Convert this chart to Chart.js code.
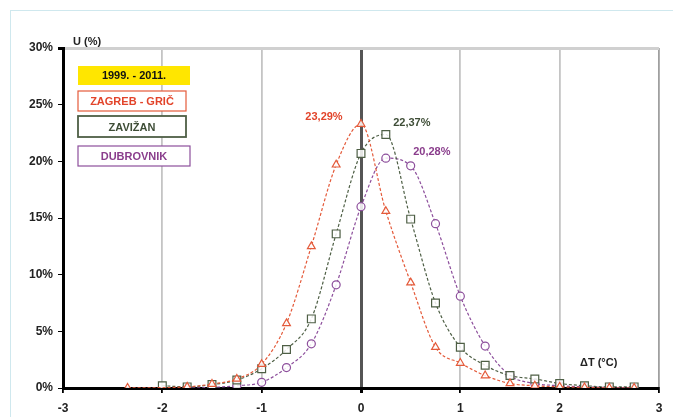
<!DOCTYPE html>
<html>
<head>
<meta charset="utf-8">
<script src="https://cdn.jsdelivr.net/npm/chart.js@4"></script>
<style>
  html, body { margin: 0; padding: 0; background: #fff; overflow: hidden; }
  #wrap { position: relative; width: 673px; height: 417px; }
  #frame { position: absolute; left: 10px; top: 10px; width: 700px; height: 450px; border: 1.5px solid #cfe8ee; }
  #chart { position: absolute; left: 0; top: 0; }
</style>
</head>
<body>
<div id="wrap">
  <div id="frame"></div>
  <canvas id="chart" width="673" height="417"></canvas>
</div>
<script>
const period = '1999. - 2011.';
const seriesNames = ['ZAGREB - GRIČ', 'ZAVIŽAN', 'DUBROVNIK'];
const xTicks = [-3, -2, -1, 0, 1, 2, 3];
const yTicks = [0, 5, 10, 15, 20, 25, 30];

const zagrebX = [-2.35, -1.75, -1.5, -1.25, -1, -0.75, -0.5, -0.25, 0, 0.25, 0.5, 0.75, 1, 1.25, 1.5, 1.75, 2, 2.25, 2.5, 2.75];
const zagrebU = [0, 0.1, 0.35, 0.8, 2.1, 5.7, 12.5, 19.7, 23.29, 15.6, 9.3, 3.6, 2.2, 1.1, 0.4, 0.2, 0.1, 0.05, 0, 0];
const zavizanX = [-2, -1.75, -1.5, -1.25, -1, -0.75, -0.5, -0.25, 0, 0.25, 0.5, 0.75, 1, 1.25, 1.5, 1.75, 2, 2.25, 2.5, 2.75];
const zavizanU = [0.2, 0.1, 0.3, 0.7, 1.7, 3.4, 6.1, 13.6, 20.7, 22.37, 14.9, 7.5, 3.6, 2.0, 1.1, 0.8, 0.4, 0.2, 0.1, 0.1];
const dubrovnikX = [-1.75, -1.5, -1.25, -1, -0.75, -0.5, -0.25, 0, 0.25, 0.5, 0.75, 1, 1.25, 1.5, 1.75, 2, 2.25, 2.5, 2.75];
const dubrovnikU = [0, 0.05, 0.2, 0.5, 1.8, 3.9, 9.1, 16.0, 20.28, 19.6, 14.5, 8.1, 3.7, 1.1, 0.4, 0.2, 0.1, 0.05, 0];

const peakLabels = ['23,29%', '22,37%', '20,28%'];
const peakX = [0, 0.25, 0.25];
const peakU = [23.29, 22.37, 20.28];

const colors = ['#e45a3a', '#4e5f45', '#8d4f9c'];
const textColors = ['#e2442a', '#3e4d36', '#8a3d8c'];

const pts = (xs, ys) => xs.map((x, i) => ({ x: x, y: ys[i] }));

function series(label, data, color, style, radius) {
  return {
    label: label,
    data: data,
    borderColor: color,
    borderWidth: 1.2,
    borderDash: [3, 2],
    cubicInterpolationMode: 'monotone',
    pointStyle: style,
    pointRadius: radius,
    pointBorderWidth: 1.2,
    pointBorderColor: color,
    pointBackgroundColor: 'rgba(255,255,255,0.85)',
    fill: false
  };
}

const overlay = {
  id: 'overlay',
  afterDraw(chart) {
    const ctx = chart.ctx;
    const xs = chart.scales.x, ys = chart.scales.y;
    ctx.save();
    ctx.textBaseline = 'middle';

    // axis titles
    ctx.fillStyle = '#222';
    ctx.font = 'bold 11px "Liberation Sans", Arial, sans-serif';
    ctx.textAlign = 'left';
    ctx.fillText('U (%)', 73, 42);
    ctx.fillText('ΔT (°C)', 580, 363);

    // legend boxes
    ctx.textAlign = 'center';
    ctx.fillStyle = '#ffe600';
    ctx.fillRect(78, 66, 112, 19);
    ctx.fillStyle = '#111';
    ctx.fillText(period, 134, 76);
    const boxes = [[78, 91, 108, 20], [78, 116, 108, 21], [78, 146, 112, 20]];
    boxes.forEach((b, i) => {
      ctx.fillStyle = '#fff';
      ctx.fillRect(b[0], b[1], b[2], b[3]);
      ctx.strokeStyle = colors[i];
      ctx.lineWidth = i === 1 ? 1.8 : 1.2;
      ctx.strokeRect(b[0], b[1], b[2], b[3]);
      ctx.fillStyle = textColors[i];
      ctx.fillText(seriesNames[i], b[0] + b[2] / 2, b[1] + b[3] / 2 + 1);
    });

    // peak labels
    const offs = [[-37, -7], [26, -12], [46, -6]];
    peakLabels.forEach((t, i) => {
      const px = xs.getPixelForValue(peakX[i]);
      const py = ys.getPixelForValue(peakU[i]);
      ctx.fillStyle = textColors[i];
      ctx.fillText(t, px + offs[i][0], py + offs[i][1]);
    });
    ctx.restore();
  }
};

new Chart(document.getElementById('chart'), {
  type: 'line',
  data: {
    datasets: [
      series(seriesNames[0], pts(zagrebX, zagrebU), colors[0], 'triangle', 4.5),
      series(seriesNames[1], pts(zavizanX, zavizanU), colors[1], 'rect', 5.5),
      series(seriesNames[2], pts(dubrovnikX, dubrovnikU), colors[2], 'circle', 4)
    ]
  },
  options: {
    responsive: false,
    animation: false,
    layout: { padding: { top: 48, right: 14, left: 0, bottom: 0 } },
    plugins: { legend: { display: false }, tooltip: { enabled: false } },
    scales: {
      x: {
        type: 'linear',
        min: -3,
        max: 3,
        afterBuildTicks: s => { s.ticks = xTicks.map(v => ({ value: v })); },
        afterFit: s => { s.height = 29; },
        border: { display: true, color: '#000', width: 3 },
        grid: {
          color: c => c.tick.value === 0 ? '#555' : c.tick.value === -3 ? 'rgba(0,0,0,0)' : c.tick.value === 3 ? '#a0a0a0' : '#c4c4c4',
          lineWidth: c => c.tick.value === 0 ? 3 : 1.8,
          tickColor: '#000',
          tickLength: 5
        },
        ticks: {
          color: '#222',
          padding: 8,
          font: { family: '"Liberation Sans", Arial, sans-serif', size: 12, weight: 'bold' }
        }
      },
      y: {
        min: 0,
        max: 30,
        afterBuildTicks: s => { s.ticks = yTicks.map(v => ({ value: v })); },
        afterFit: s => { s.width = 63; },
        border: { display: true, color: '#000', width: 3 },
        grid: {
          color: c => c.tick.value === 30 ? '#d0d0d0' : 'rgba(0,0,0,0)',
          lineWidth: c => c.tick.value === 30 ? 3 : 1,
          tickColor: '#000',
          tickLength: 5
        },
        ticks: {
          color: '#222',
          padding: 5,
          callback: v => v + '%',
          font: { family: '"Liberation Sans", Arial, sans-serif', size: 12, weight: 'bold' }
        }
      }
    }
  },
  plugins: [overlay]
});
</script>
</body>
</html>
